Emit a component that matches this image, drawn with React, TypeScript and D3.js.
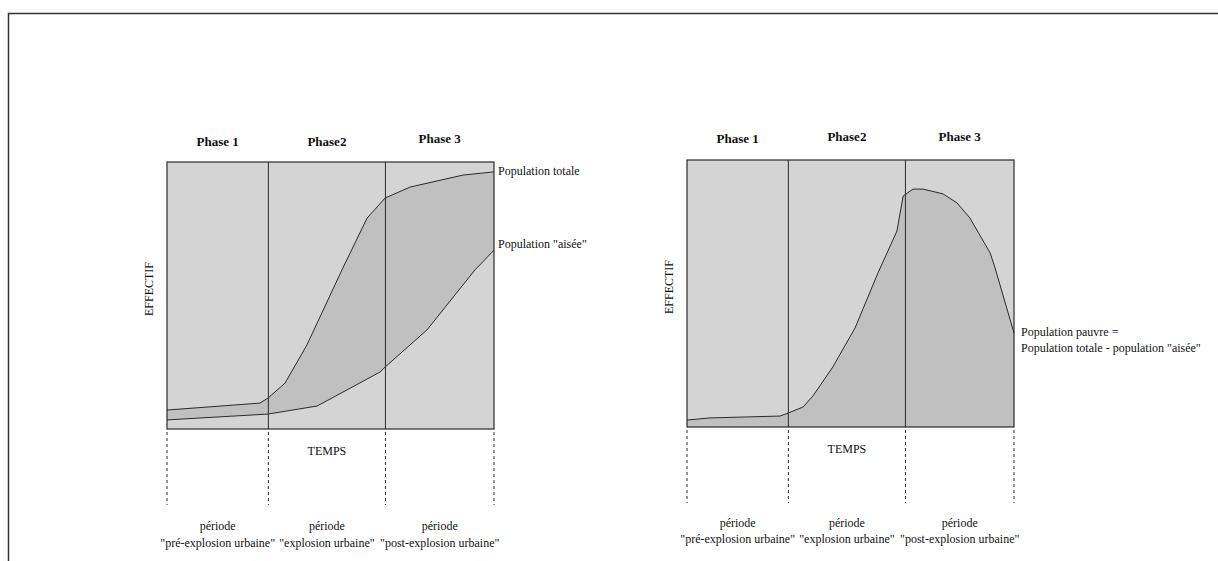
import React from "react";
import * as d3 from "d3";

// ---- data (time 0..100, effectif 0..100) ----
const phaseLabels = ["Phase 1", "Phase2", "Phase 3"];
const phaseBounds = [0, 31, 66.8, 100];
const periodLine1 = ["période", "période", "période"];
const periodLine2 = ['"pré-explosion urbaine"', '"explosion urbaine"', '"post-explosion urbaine"'];

const totalTime = [0, 28.4, 30.9, 36.1, 42.8, 53.5, 61.2, 66.7, 74.3, 90.5, 100];
const totalValue = [7.1, 9.7, 11.6, 17.2, 31.5, 59.6, 79.0, 86.5, 90.6, 95.1, 96.3];

const aiseeTime = [0, 30.9, 45.9, 65.1, 66.7, 79.5, 94.2, 100];
const aiseeValue = [3.4, 5.6, 8.6, 21.3, 23.2, 37.1, 59.6, 67.0];

const pauvreTime = [0, 7.0, 28.4, 30.9, 35.5, 38.5, 44.6, 51.4, 58.4, 64.2, 66.1, 69.1, 72.2, 78.3, 82.6, 86.5, 92.7, 94.2, 100];
const pauvreValue = [2.6, 3.4, 4.1, 5.2, 7.5, 11.6, 22.5, 37.1, 57.7, 73.4, 86.5, 89.1, 89.1, 87.3, 83.9, 78.3, 65.2, 59.6, 35.2];

const FONT = "'Liberation Serif', 'DejaVu Serif', serif";
const LIGHT = "#d4d4d4";
const DARK = "#c0c0c0";
const INK = "#2a2a2a";

type Pt = [number, number];
const zip = (t: number[], v: number[]): Pt[] => t.map((x, i) => [x, v[i]]);

interface PanelProps {
  x0: number;
  x1: number;
  yTop: number;
  yBot: number;
  dashEnd: number;
  headY: number[];
  periodY: [number, number];
  children: (x: d3.ScaleLinear<number, number>, y: d3.ScaleLinear<number, number>) => React.ReactNode;
}

function Panel({ x0, x1, yTop, yBot, dashEnd, headY, periodY, children }: PanelProps) {
  const x = d3.scaleLinear().domain([0, 100]).range([x0, x1]);
  const y = d3.scaleLinear().domain([0, 100]).range([yBot, yTop]);
  const centers = phaseLabels.map((_, i) => (x(phaseBounds[i]) + x(phaseBounds[i + 1])) / 2);
  return (
    <g>
      <rect x={x0} y={yTop} width={x1 - x0} height={yBot - yTop} fill={LIGHT} />
      {children(x, y)}
      {phaseBounds.slice(1, 3).map((b, i) => (
        <line key={i} x1={x(b)} x2={x(b)} y1={yTop} y2={yBot} stroke={INK} strokeWidth={1} />
      ))}
      <rect x={x0} y={yTop} width={x1 - x0} height={yBot - yTop} fill="none" stroke={INK} strokeWidth={1.2} />
      {phaseBounds.map((b, i) => (
        <line key={"d" + i} x1={x(b)} x2={x(b)} y1={yBot + 3} y2={dashEnd} stroke={INK} strokeWidth={1} strokeDasharray="3,3" />
      ))}
      {phaseLabels.map((p, i) => (
        <text key={"p" + i} x={centers[i]} y={headY[i]} textAnchor="middle" fontFamily={FONT} fontWeight="bold" fontSize={13} fill="#111">
          {p}
        </text>
      ))}
      <text x={centers[1]} y={yBot + 26} textAnchor="middle" fontFamily={FONT} fontSize={12} fill="#111">TEMPS</text>
      <text
        transform={`translate(${x0 - 14},${yTop + 127}) rotate(-90)`}
        textAnchor="middle"
        fontFamily={FONT}
        fontSize={12}
        fill="#111"
      >
        EFFECTIF
      </text>
      {phaseLabels.map((_, i) => (
        <g key={"per" + i}>
          <text x={centers[i]} y={periodY[0]} textAnchor="middle" fontFamily={FONT} fontSize={12} fill="#111">{periodLine1[i]}</text>
          <text x={centers[i]} y={periodY[1]} textAnchor="middle" fontFamily={FONT} fontSize={12} fill="#111">{periodLine2[i]}</text>
        </g>
      ))}
    </g>
  );
}

export default function App() {
  const total = zip(totalTime, totalValue);
  const aisee = zip(aiseeTime, aiseeValue);
  const pauvre = zip(pauvreTime, pauvreValue);

  return (
    <svg width={1218} height={561} style={{ position: "absolute", left: 0, top: 0, background: "#fff" }}>
      <rect x={0} y={0} width={1218} height={561} fill="#fff" />
      <path d="M8.5,561 V13.5 H1218" fill="none" stroke="#333" strokeWidth={1.5} />

      <Panel x0={167} x1={494} yTop={162} yBot={429} dashEnd={505} headY={[146, 146, 143]} periodY={[530, 547]}>
        {(x, y) => {
          const line = d3.line<Pt>().x((d) => x(d[0])).y((d) => y(d[1]));
          const band = line([...total, ...aisee.slice().reverse()]) + "Z";
          return (
            <g>
              <path d={band} fill={DARK} />
              <path d={line(total) || ""} fill="none" stroke={INK} strokeWidth={1} />
              <path d={line(aisee) || ""} fill="none" stroke={INK} strokeWidth={1} />
              <text x={x(100) + 4} y={y(totalValue[totalValue.length - 1]) + 3} fontFamily={FONT} fontSize={12} fill="#111">
                Population totale
              </text>
              <text x={x(100) + 4} y={y(aiseeValue[aiseeValue.length - 1]) - 2} fontFamily={FONT} fontSize={12} fill="#111">
                Population "aisée"
              </text>
            </g>
          );
        }}
      </Panel>

      <Panel x0={687} x1={1014} yTop={160} yBot={427} dashEnd={503} headY={[143, 141, 141]} periodY={[527, 543]}>
        {(x, y) => {
          const area = d3.area<Pt>().x((d) => x(d[0])).y0(y(0)).y1((d) => y(d[1]));
          const line = d3.line<Pt>().x((d) => x(d[0])).y((d) => y(d[1]));
          const endY = y(pauvreValue[pauvreValue.length - 1]);
          return (
            <g>
              <path d={area(pauvre) || ""} fill={DARK} />
              <path d={line(pauvre) || ""} fill="none" stroke={INK} strokeWidth={1} />
              <text x={x(100) + 7} y={endY + 3} fontFamily={FONT} fontSize={12} fill="#111">
                Population pauvre =
              </text>
              <text x={x(100) + 7} y={endY + 19} fontFamily={FONT} fontSize={12} fill="#111">
                Population totale - population "aisée"
              </text>
            </g>
          );
        }}
      </Panel>
    </svg>
  );
}
